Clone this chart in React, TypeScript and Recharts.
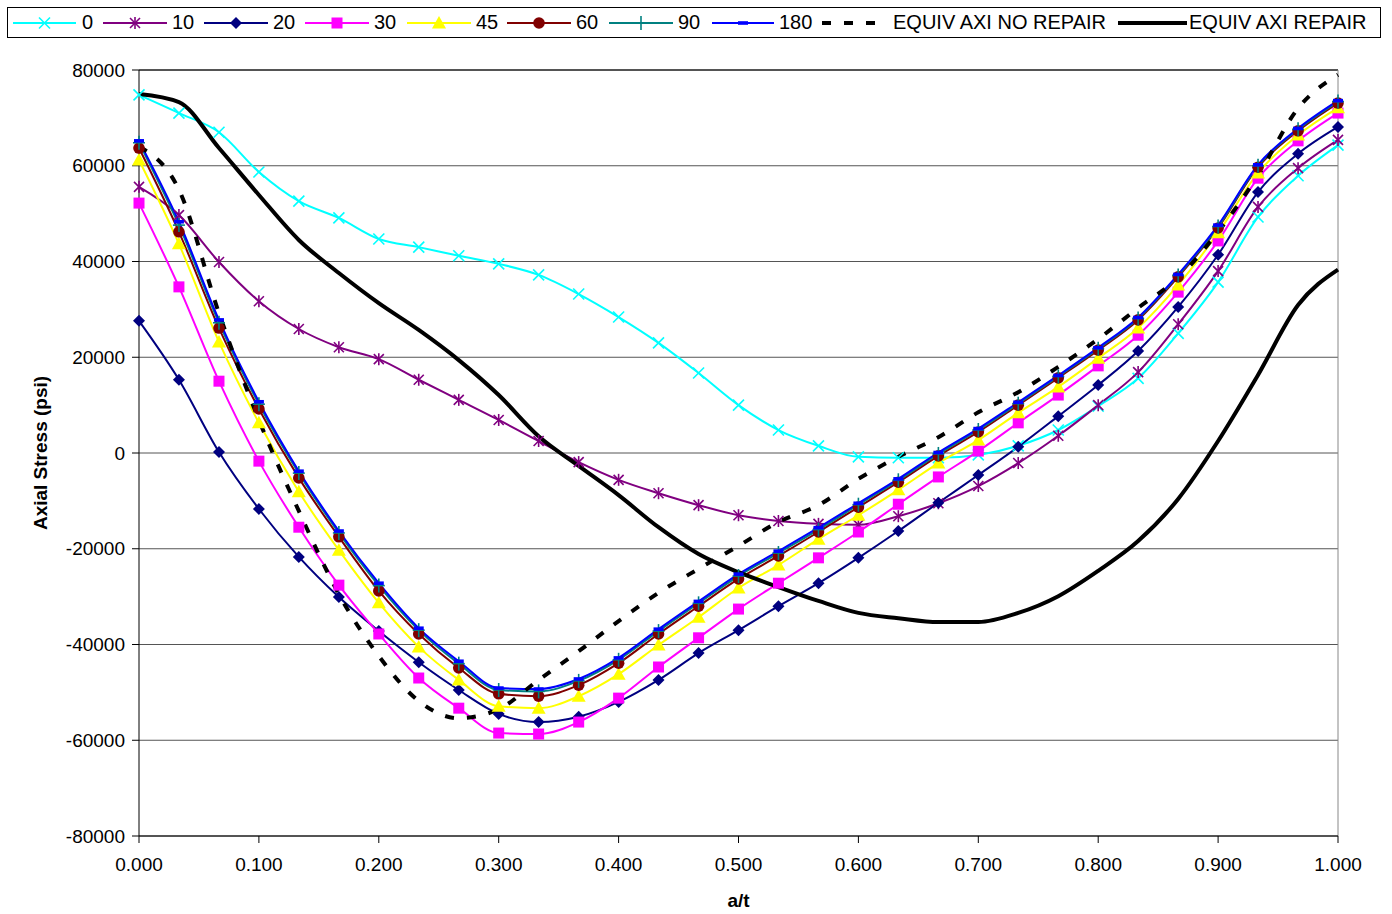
import React from "react";
import { LineChart, Line, XAxis, YAxis, CartesianGrid, ReferenceLine } from "recharts";

// a/t positions (31 stations across the wall)
const aOverT = [
  0.0, 0.0333, 0.0667, 0.1, 0.1333, 0.1667, 0.2, 0.2333, 0.2667, 0.3, 0.3333,
  0.3667, 0.4, 0.4333, 0.4667, 0.5, 0.5333, 0.5667, 0.6, 0.6333, 0.6667, 0.7,
  0.7333, 0.7667, 0.8, 0.8333, 0.8667, 0.9, 0.9333, 0.9667, 1.0,
];

const deg0 = [74800, 71000, 67000, 58700, 52600, 49100, 44700, 43000, 41200, 39500, 37200, 33200, 28400, 23000, 16700, 10000, 4800, 1500, -800, -1000, -1000, -400, 1500, 4800, 9800, 15600, 25000, 35700, 49300, 57900, 64300];
const deg10 = [55600, 49700, 39900, 31700, 25900, 22100, 19600, 15300, 11100, 6900, 2500, -1900, -5600, -8400, -10900, -13000, -14200, -14800, -15000, -13200, -10500, -6900, -2100, 3600, 10000, 16900, 26900, 38000, 51400, 59500, 65400];
const deg20 = [27600, 15300, 200, -11700, -21700, -30100, -37200, -43700, -49500, -54500, -56200, -55100, -52000, -47400, -41800, -37000, -32000, -27200, -21900, -16300, -10400, -4600, 1300, 7700, 14200, 21300, 30500, 41400, 54500, 62500, 68100];
const deg30 = [52200, 34700, 15000, -1700, -15500, -27600, -37800, -47000, -53300, -58500, -58700, -56200, -51200, -44700, -38600, -32600, -27200, -21900, -16500, -10700, -5000, 400, 6300, 12100, 18200, 24600, 33600, 44300, 57400, 65200, 71000];
const deg45 = [61200, 43700, 23200, 6300, -8100, -20300, -31300, -40500, -47400, -52900, -53300, -50800, -46200, -40100, -34300, -28200, -23400, -18000, -13000, -7700, -2100, 2700, 8400, 13800, 19800, 26100, 35100, 46000, 58500, 66400, 72100];
const deg60 = [63700, 46200, 26100, 9200, -5200, -17500, -28800, -37800, -44900, -50300, -50800, -48500, -43900, -37800, -32000, -26300, -21500, -16500, -11300, -6100, -600, 4400, 10000, 15700, 21500, 27800, 36800, 47000, 59700, 67300, 73100];
const deg90 = [64800, 47600, 27200, 10200, -4200, -16700, -27700, -37000, -44000, -49500, -49800, -47600, -43200, -37200, -31400, -25700, -20900, -16000, -10800, -5700, -200, 4800, 10300, 16000, 21800, 28100, 37100, 47300, 60000, 67600, 73400];
const deg180 = [65200, 48300, 27800, 10700, -3800, -16300, -27200, -36600, -43500, -49100, -49300, -47200, -42800, -36800, -31000, -25300, -20500, -15600, -10500, -5400, 100, 5100, 10600, 16200, 22000, 28300, 37300, 47600, 60200, 67800, 73600];
const noRepair = [64000, 55000, 29200, 6900, -12100, -29500, -42400, -51800, -55400, -53500, -47400, -41400, -35100, -29200, -24200, -19400, -14400, -10900, -5400, -800, 3300, 8500, 12700, 18000, 23800, 30300, 36600, 46200, 58000, 72000, 79000];
const repair = [75000, 73300, 63700, 53900, 44500, 37600, 31300, 25700, 19400, 12100, 3500, -2700, -8800, -15500, -21100, -24900, -28000, -30900, -33400, -34500, -35300, -35300, -33400, -29900, -24600, -18400, -9600, 2500, 16300, 30900, 38300];

const xTicks = [0, 0.1, 0.2, 0.3, 0.4, 0.5, 0.6, 0.7, 0.8, 0.9, 1.0];
const yTicks = [-80000, -60000, -40000, -20000, 0, 20000, 40000, 60000, 80000];

const data = aOverT.map((x, i) => ({
  x,
  d0: deg0[i],
  d10: deg10[i],
  d20: deg20[i],
  d30: deg30[i],
  d45: deg45[i],
  d60: deg60[i],
  d90: deg90[i],
  d180: deg180[i],
  nr: noRepair[i],
  r: repair[i],
}));

type Kind = "x" | "star" | "diamond" | "square" | "triangle" | "circle" | "plus" | "dash" | "none";

const series: { key: string; name: string; color: string; kind: Kind; width: number; dash?: string }[] = [
  { key: "d0", name: "0", color: "#00FFFF", kind: "x", width: 2 },
  { key: "d10", name: "10", color: "#800080", kind: "star", width: 2 },
  { key: "d20", name: "20", color: "#000080", kind: "diamond", width: 2 },
  { key: "d30", name: "30", color: "#FF00FF", kind: "square", width: 2 },
  { key: "d45", name: "45", color: "#FFFF00", kind: "triangle", width: 2 },
  { key: "d60", name: "60", color: "#800000", kind: "circle", width: 2 },
  { key: "d90", name: "90", color: "#008080", kind: "plus", width: 2 },
  { key: "d180", name: "180", color: "#0000FF", kind: "dash", width: 2 },
  { key: "nr", name: "EQUIV AXI NO REPAIR", color: "#000000", kind: "none", width: 4, dash: "9 13" },
  { key: "r", name: "EQUIV AXI REPAIR", color: "#000000", kind: "none", width: 4 },
];

// legend item left edges / line lengths in px
const legendPos: Record<string, { left: number; line: number; gap: number }> = {
  d0: { left: 13, line: 63, gap: 6 },
  d10: { left: 103, line: 64, gap: 5 },
  d20: { left: 204, line: 64, gap: 5 },
  d30: { left: 305, line: 64, gap: 5 },
  d45: { left: 407, line: 64, gap: 5 },
  d60: { left: 507, line: 64, gap: 5 },
  d90: { left: 609, line: 64, gap: 5 },
  d180: { left: 712, line: 62, gap: 5 },
  nr: { left: 822, line: 57, gap: 14 },
  r: { left: 1118, line: 69, gap: 2 },
};

const FONT = "Arial, 'Liberation Sans', sans-serif";

function Marker({ kind, cx, cy, color }: { kind: Kind; cx?: number; cy?: number; color: string }) {
  if (cx == null || cy == null || kind === "none") return <g />;
  switch (kind) {
    case "x":
      return (
        <g stroke={color} strokeWidth={1.6}>
          <line x1={cx - 5.5} y1={cy - 5.5} x2={cx + 5.5} y2={cy + 5.5} />
          <line x1={cx - 5.5} y1={cy + 5.5} x2={cx + 5.5} y2={cy - 5.5} />
        </g>
      );
    case "star":
      return (
        <g stroke={color} strokeWidth={1.6}>
          <line x1={cx - 5} y1={cy - 5} x2={cx + 5} y2={cy + 5} />
          <line x1={cx - 5} y1={cy + 5} x2={cx + 5} y2={cy - 5} />
          <line x1={cx} y1={cy - 6} x2={cx} y2={cy + 6} />
        </g>
      );
    case "diamond":
      return <polygon points={`${cx},${cy - 6} ${cx + 6},${cy} ${cx},${cy + 6} ${cx - 6},${cy}`} fill={color} />;
    case "square":
      return <rect x={cx - 5.5} y={cy - 5.5} width={11} height={11} fill={color} />;
    case "triangle":
      return <polygon points={`${cx},${cy - 7} ${cx + 7},${cy + 5.5} ${cx - 7},${cy + 5.5}`} fill={color} />;
    case "circle":
      return <circle cx={cx} cy={cy} r={5.8} fill={color} />;
    case "plus":
      return (
        <g stroke={color} strokeWidth={1.6}>
          <line x1={cx - 6} y1={cy} x2={cx + 6} y2={cy} />
          <line x1={cx} y1={cy - 7} x2={cx} y2={cy + 7} />
        </g>
      );
    case "dash":
      return <rect x={cx - 5} y={cy - 1.8} width={10} height={3.6} fill={color} />;
    default:
      return <g />;
  }
}

function YLabel(props: any) {
  const vb = props.viewBox || { y: 70, height: 766 };
  const cx = 40;
  const cy = vb.y + vb.height / 2;
  return (
    <text
      x={cx}
      y={cy}
      transform={`rotate(-90 ${cx} ${cy})`}
      textAnchor="middle"
      dominantBaseline="central"
      fontFamily={FONT}
      fontSize={19}
      fontWeight="bold"
      fill="#000"
    >
      Axial Stress (psi)
    </text>
  );
}

function ChartLegend() {
  return (
    <div
      style={{
        position: "absolute",
        left: 7,
        top: 7,
        width: 1372,
        height: 29,
        border: "1px solid #000",
        background: "#fff",
        fontFamily: FONT,
        fontSize: 20,
        color: "#000",
      }}
    >
      {series.map((s) => {
        const p = legendPos[s.key];
        return (
          <div key={s.key} style={{ position: "absolute", left: p.left - 8, top: 0, height: 29, display: "flex", alignItems: "center", whiteSpace: "nowrap" }}>
            <svg width={p.line} height={20} style={{ display: "block" }}>
              <line x1={0} y1={10} x2={p.line} y2={10} stroke={s.color} strokeWidth={s.width === 4 ? 4 : 2} strokeDasharray={s.dash} />
              <Marker kind={s.kind} cx={p.line / 2} cy={10} color={s.color} />
            </svg>
            <span style={{ marginLeft: p.gap, lineHeight: "29px" }}>{s.name}</span>
          </div>
        );
      })}
    </div>
  );
}

export default function App() {
  return (
    <div style={{ position: "absolute", left: 0, top: 0, width: 1392, height: 914, background: "#fff" }}>
      <LineChart width={1392} height={914} data={data} margin={{ top: 70, right: 54, left: 39, bottom: 8 }}>
        <CartesianGrid vertical={false} stroke="#555" strokeWidth={1} />
        <XAxis
          type="number"
          dataKey="x"
          domain={[0, 1]}
          ticks={xTicks}
          tickFormatter={(v: number) => v.toFixed(3)}
          height={70}
          stroke="#000"
          tickSize={7}
          tickMargin={15}
          tick={{ fill: "#000", fontSize: 19, fontFamily: FONT }}
          label={{ value: "a/t", position: "insideBottom", offset: -1, fill: "#000", fontSize: 19, fontWeight: "bold", fontFamily: FONT }}
        />
        <YAxis
          type="number"
          domain={[-80000, 80000]}
          ticks={yTicks}
          width={100}
          stroke="#000"
          tickSize={7}
          tickMargin={7}
          tick={{ fill: "#000", fontSize: 19, fontFamily: FONT }}
          label={<YLabel />}
        />
        <ReferenceLine y={80000} stroke="#000" strokeWidth={1} />
        <ReferenceLine x={1} stroke="#888" strokeWidth={1} />
        {series.map((s) => (
          <Line
            key={s.key}
            type="monotone"
            dataKey={s.key}
            name={s.name}
            stroke={s.color}
            strokeWidth={s.width}
            strokeDasharray={s.dash}
            dot={
              s.kind === "none"
                ? false
                : (p: any) => <Marker key={`${s.key}-${p.index}`} kind={s.kind} cx={p.cx} cy={p.cy} color={s.color} />
            }
            activeDot={false}
            isAnimationActive={false}
          />
        ))}
      </LineChart>
      <ChartLegend />
    </div>
  );
}
